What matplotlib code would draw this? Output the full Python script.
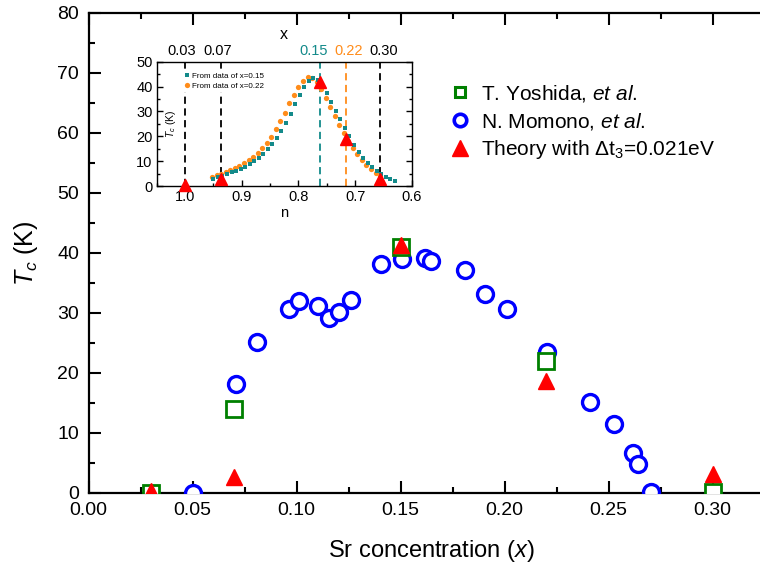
import numpy as np
import matplotlib
matplotlib.use('Agg')
import matplotlib.pyplot as plt
from matplotlib.lines import Line2D

plt.rcParams['font.family'] = ['Liberation Sans', 'DejaVu Sans']
plt.rcParams['mathtext.fontset'] = 'custom'
plt.rcParams['mathtext.rm'] = 'Liberation Sans'
plt.rcParams['mathtext.it'] = 'Liberation Sans:italic'

# main panel data
momono_x = [0.050, 0.0708, 0.0808, 0.0965, 0.101, 0.1104, 0.1157, 0.1205, 0.126,
            0.1407, 0.1508, 0.1615, 0.1646, 0.181, 0.1905, 0.2013, 0.2202,
            0.241, 0.2527, 0.2615, 0.2642, 0.2703]
momono_tc = [0.0, 18.2, 25.1, 30.7, 32.0, 31.2, 29.2, 30.1, 32.2,
             38.2, 38.9, 39.2, 38.6, 37.1, 33.2, 30.7, 23.4,
             15.1, 11.5, 6.7, 4.8, 0.2]

yoshida_x = [0.03, 0.07, 0.15, 0.22, 0.30]
yoshida_tc = [0.0, 14.0, 41.0, 22.0, 0.2]

theory_x = [0.03, 0.07, 0.15, 0.22, 0.30]
theory_tc = [0.3, 2.7, 41.3, 18.6, 3.1]

# inset data
teal_n = [0.950, 0.942, 0.934, 0.926, 0.918, 0.910, 0.902, 0.894, 0.886, 0.878,
          0.870, 0.862, 0.854, 0.846, 0.838, 0.830, 0.822, 0.814, 0.806, 0.798,
          0.790, 0.782, 0.774, 0.766, 0.758, 0.750, 0.742, 0.734, 0.726, 0.718,
          0.710, 0.702, 0.694, 0.686, 0.678, 0.670, 0.662, 0.654, 0.646, 0.638, 0.630]
teal_tc = [3.0, 3.6, 4.2, 4.9, 5.5, 6.2, 6.9, 7.8, 8.8, 10.1,
           11.4, 13.0, 14.8, 17.0, 19.4, 22.2, 25.4, 29.0, 32.8, 36.6,
           39.8, 42.2, 43.3, 42.8, 40.6, 37.4, 33.8, 30.2, 26.8, 23.5,
           20.0, 16.6, 13.7, 11.3, 9.2, 7.5, 6.0, 4.7, 3.6, 2.7, 1.9]

orange_n = [0.952, 0.944, 0.936, 0.928, 0.920, 0.912, 0.904, 0.896, 0.888, 0.880,
            0.872, 0.864, 0.856, 0.848, 0.840, 0.832, 0.824, 0.816, 0.808, 0.800,
            0.792, 0.784, 0.776, 0.768, 0.760, 0.752, 0.744, 0.736, 0.728, 0.720,
            0.712, 0.704, 0.696, 0.688, 0.680, 0.672, 0.664, 0.656]
orange_tc = [3.6, 4.3, 5.0, 5.7, 6.4, 7.2, 8.1, 9.1, 10.3, 11.7,
             13.3, 15.2, 17.4, 19.9, 22.8, 26.0, 29.5, 33.2, 36.8, 40.0,
             42.4, 43.7, 43.6, 42.0, 39.0, 35.4, 31.6, 28.0, 24.6, 21.4,
             18.2, 15.3, 12.7, 10.4, 8.4, 6.7, 5.2, 3.9]

theory_n = [1.0, 0.937, 0.762, 0.717, 0.657]
theory_n_tc = [0.3, 2.7, 42.0, 18.9, 2.9]

vline_n = [1.0, 0.937, 0.762, 0.717, 0.657]
vline_lab = ['0.03', '0.07', '0.15', '0.22', '0.30']
vline_lab_pos = [1.006, 0.942, 0.773, 0.711, 0.649]

teal = '#138a8a'
orange = '#ff8c1a'
vline_col = ['black', 'black', teal, orange, 'black']

fig = plt.figure(figsize=(7.6, 5.69), dpi=100)
ax = fig.add_axes([0.1167, 0.134, 0.903, 0.8436])

ax.plot(momono_x, momono_tc, 'o', ms=11.5, mew=2.4, mec='#0000ff', mfc='white', zorder=3)
ax.plot(yoshida_x, yoshida_tc, 's', ms=11.5, mew=2.0, mec='#008000', mfc='white', zorder=4)
ax.plot(theory_x, theory_tc, '^', ms=11, color='#ff0000', zorder=5)

ax.set_xlim(0, 0.33)
ax.set_ylim(0, 80)
ax.set_xticks(np.arange(0, 0.31, 0.05))
ax.set_xticks(np.arange(0, 0.33, 0.025), minor=True)
ax.set_yticks(np.arange(0, 81, 10))
ax.set_yticks(np.arange(0, 81, 5), minor=True)
ax.xaxis.set_major_formatter(matplotlib.ticker.FormatStrFormatter('%.2f'))
ax.spines['right'].set_visible(False)
for s in ['left', 'bottom', 'top']:
    ax.spines[s].set_linewidth(1.6)
ax.tick_params(which='both', direction='in', top=True, right=False, width=1.5, labelsize=14)
ax.tick_params(which='major', length=8.5, pad=7)
ax.tick_params(which='minor', length=4.5)
ax.set_xlabel('Sr concentration ($\\it{x}$)', fontsize=17, labelpad=13)
ax.set_ylabel('$T_c$ (K)', fontsize=18, labelpad=12)

handles = [
    Line2D([], [], ls='none', marker='s', ms=7.5, mew=2.2, mec='#008000', mfc='white'),
    Line2D([], [], ls='none', marker='o', ms=9, mew=2.6, mec='#0000ff', mfc='white'),
    Line2D([], [], ls='none', marker='^', ms=11, color='#ff0000'),
]
labels = ['T. Yoshida, $\\it{et\\ al}$.', 'N. Momono, $\\it{et\\ al}$.',
          'Theory with $\\Delta$t$_3$=0.021eV']
ax.legend(handles, labels, loc='upper left', bbox_to_anchor=(0.508, 0.876), frameon=False,
          fontsize=15, labelspacing=0.33, handletextpad=0.4, handlelength=1.2, borderpad=0)

# inset
ai = fig.add_axes([0.2062, 0.6731, 0.3357, 0.2185])
for n, c in zip(vline_n, vline_col):
    ai.axvline(n, color=c, ls=(0, (4, 2.5)), lw=1.3, zorder=1)
ai.plot(teal_n, teal_tc, 's', ms=3.2, color=teal, mew=0, zorder=3, label='From data of x=0.15')
ai.plot(orange_n, orange_tc, 'o', ms=3.8, color=orange, mew=0, zorder=2, label='From data of x=0.22')
ai.plot(theory_n, theory_n_tc, '^', ms=8, color='#ff0000', zorder=4, clip_on=False)
ai.set_xlim(1.05, 0.6)
ai.set_ylim(0, 50)
ai.set_xticks([1.0, 0.9, 0.8, 0.7, 0.6])
ai.set_xticks(np.arange(0.6, 1.06, 0.05), minor=True)
ai.set_xticklabels(['1.0', '0.9', '0.8', '0.7', '0.6'])
ai.set_yticks(np.arange(0, 51, 10))
ai.set_yticks(np.arange(0, 51, 5), minor=True)
ai.tick_params(which='both', direction='in', right=True, width=1.0, labelsize=10.5, pad=3)
ai.tick_params(which='major', length=4.5)
ai.tick_params(which='minor', length=2.5)
ai.set_xlabel('n', fontsize=10.5, labelpad=1)
ai.text(0.03, 0.5, '$T_c$ (K)', transform=ai.transAxes, rotation=90, fontsize=7.5,
        ha='left', va='center')
for s in ai.spines.values():
    s.set_linewidth(1.0)
leg = ai.legend(loc='upper left', bbox_to_anchor=(0.08, 0.96), fontsize=5.8, frameon=True,
                handletextpad=0.2, handlelength=1.0, labelspacing=0.3, borderpad=0.2,
                markerscale=1.0)
leg.get_frame().set_edgecolor('none')
leg.get_frame().set_facecolor('white')
leg.get_frame().set_alpha(1)

# top scale of the inset: doping x marked at the dashed lines
for p, lab, c in zip(vline_lab_pos, vline_lab, vline_col):
    ai.text(p, 1.03, lab, transform=ai.get_xaxis_transform(), color=c, fontsize=10.5,
            ha='center', va='bottom')
ai.text(0.5, 1.16, 'x', transform=ai.transAxes, fontsize=11.5, ha='center', va='bottom')

fig.savefig('out.png', dpi=100)
